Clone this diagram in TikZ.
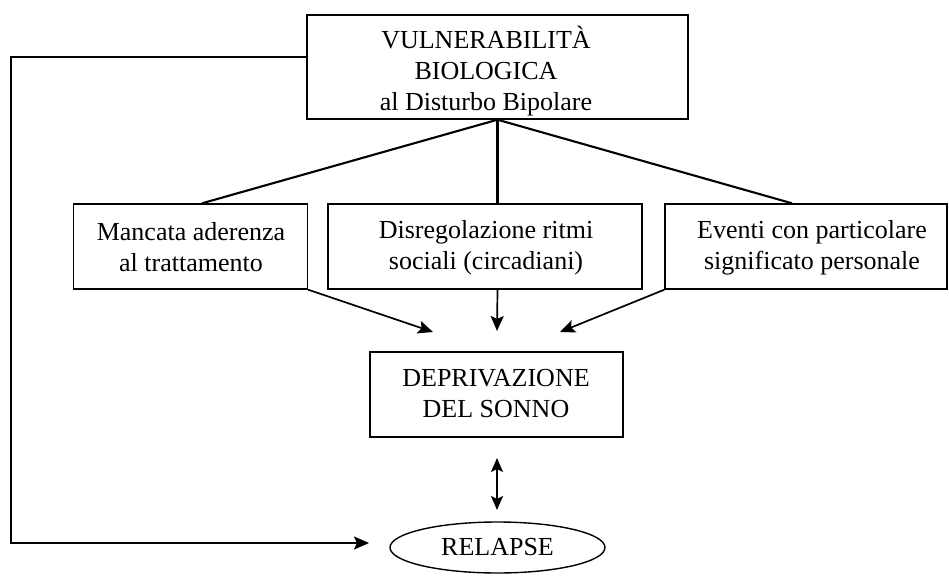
\documentclass[tikz,border=0pt]{standalone}
\usepackage{fontspec}
\setmainfont{Liberation Serif}
\usetikzlibrary{arrows.meta,shapes.geometric}
\begin{document}
\begin{tikzpicture}[x=1pt,y=-1pt,
  txt/.style={font=\fontsize{26}{31}\selectfont, align=center, inner sep=0pt},
  box/.style={draw, line width=1.4pt, inner sep=0pt},
  conn/.style={line width=2.1pt},
  tip/.style={-{Stealth[length=15pt,width=13pt,inset=3pt]}},
  arr/.style={line width=1.7pt, tip},
  darr/.style={line width=1.7pt, {Stealth[length=14pt,width=12pt,inset=3pt]}-{Stealth[length=14pt,width=12pt,inset=3pt]}}]
\useasboundingbox (0,0) rectangle (949,575);

% causes
\node[box, minimum width=381pt, minimum height=104pt] (vuln) at (497.5,67) {};
\node[txt] (vulnT) at (486,71) {VULNERABILITÀ\\BIOLOGICA\\al Disturbo Bipolare};
\node[box, minimum width=234pt, minimum height=85pt] (m1) at (190.5,246.5) {};
\node[txt] (m1T) at (191,247.5) {Mancata aderenza\\al trattamento};
\node[box, minimum width=314pt, minimum height=85pt] (m2) at (485,246.5) {};
\node[txt] (m2T) at (486,247.5) {Disregolazione ritmi\\sociali (circadiani)};
\node[box, minimum width=282pt, minimum height=85pt] (m3) at (806,246.5) {};
\node[txt] (m3T) at (812,247.5) {Eventi con particolare\\significato personale};

% outcomes
\node[box, minimum width=253pt, minimum height=85pt] (depr) at (496.5,394.5) {};
\node[txt] (deprT) at (496,394) {DEPRIVAZIONE\\DEL SONNO};
\node[txt, draw, line width=1.4pt, ellipse, minimum width=215pt, minimum height=51pt] (rel) at (497.5,547.5)
  {RELAPSE};

% arrow ends
\coordinate (tipL) at (433,332);
\coordinate (tipM) at (497,331);
\coordinate (tipR) at (560,332);
\coordinate (dTop) at (497,458);
\coordinate (dBot) at (497,510);
\coordinate (fbL) at (11,543);
\coordinate (fbTip) at (369,543);

% branches from the top box
\draw[conn] (vuln.south) -- ([xshift=11.5pt]m1.north);
\draw[conn] (vuln.south) -- (vuln.south |- m2.north);
\draw[conn] (vuln.south) -- ([xshift=-14pt]m3.north);

% into sleep deprivation
\draw[arr] (m1.south east) -- (tipL);
\draw[arr] (vuln.south |- m2.south) -- (tipM);
\draw[arr] (m3.south west) -- (tipR);

% sleep deprivation <-> relapse
\draw[darr] (dTop) -- (dBot);

% direct path to relapse
\draw[conn, tip] ([yshift=10pt]vuln.west) -| (fbL) -- (fbTip);
\end{tikzpicture}
\end{document}
